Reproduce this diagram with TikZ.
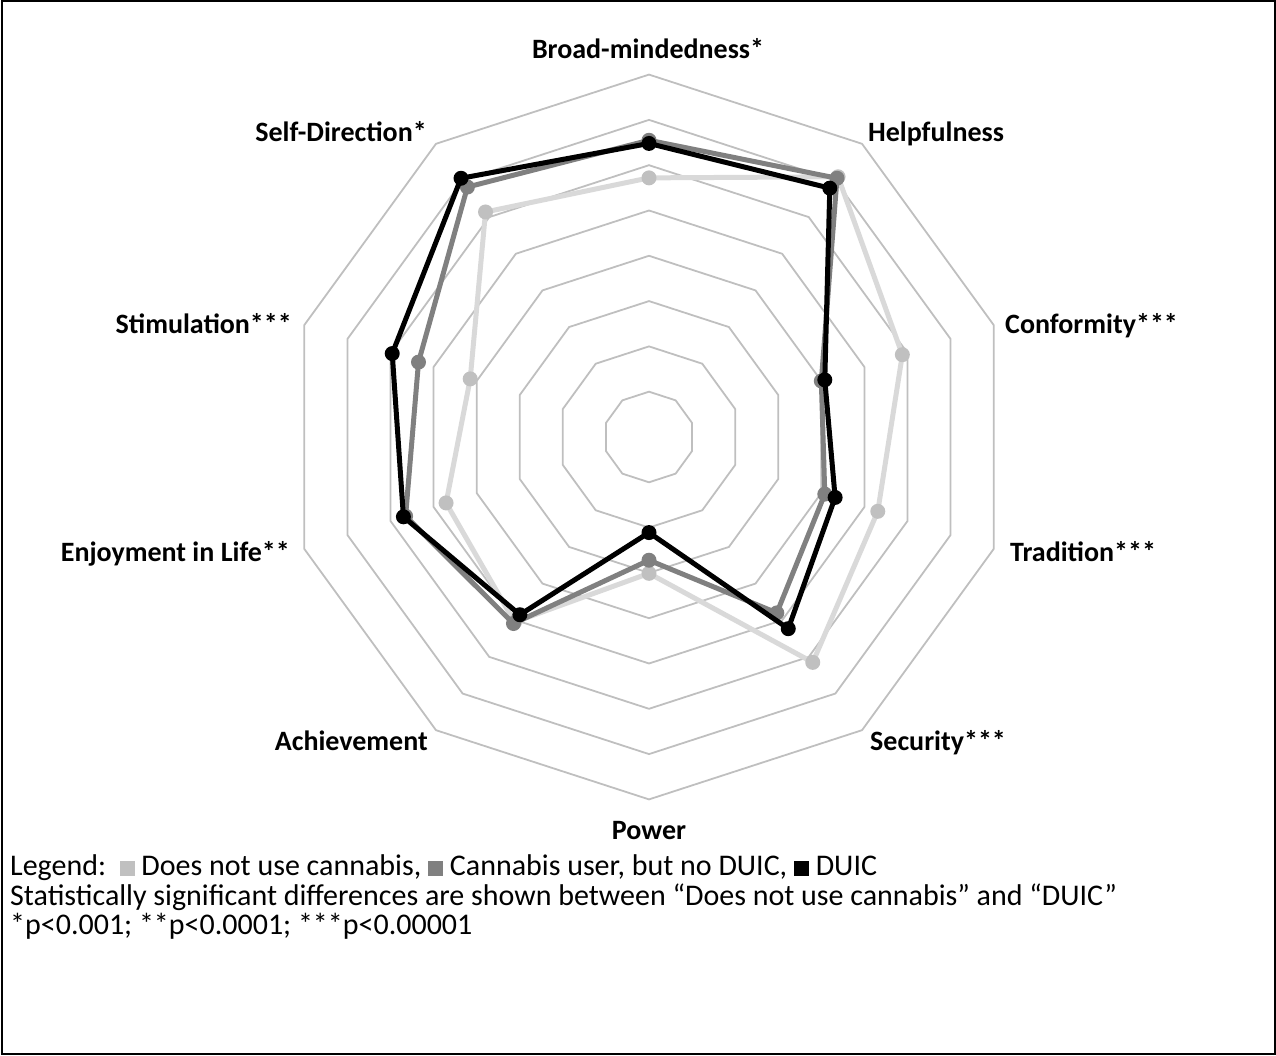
\documentclass[tikz,border=0pt]{standalone}
\usepackage{fontspec}
\setmainfont{Carlito}
\definecolor{gridc}{RGB}{191,191,191}
\definecolor{lightc}{RGB}{217,217,217}
\definecolor{lightm}{RGB}{192,192,192}
\definecolor{darkc}{RGB}{128,128,128}
\newcommand\legsq[1]{\textcolor{#1}{\rule{15pt}{15pt}}}
\begin{document}
\begin{tikzpicture}[x=1pt,y=1pt,
  lbl/.style={font=\fontsize{28}{32}\selectfont\bfseries, inner sep=0pt},
  gridline/.style={gridc, line width=1.8pt},
  series/.style={line width=5pt, line join=round}]
\useasboundingbox (0,0) rectangle (1276,1055);
\draw[line width=2pt] (1.5,1.5) rectangle (1274.5,1053.5);
\begin{scope}[shift={(649,618)}, x=45.3pt, y=45.3pt]
  \foreach \k in {1,...,8}
    \draw[gridline] (90:\k) \foreach \a in {54,18,...,-234} {-- (\a:\k)} -- cycle;
  \foreach \v [count=\i] in {5.72,7.1,5.88,5.31,6.15,3.01,5.05,4.71,4.15,6.14}
    \coordinate (L\i) at ({90-36*(\i-1)}:\v);
  \foreach \v [count=\i] in {6.55,7.06,4.0,4.08,4.8,2.72,5.09,5.65,5.35,6.82}
    \coordinate (D\i) at ({90-36*(\i-1)}:\v);
  \foreach \v [count=\i] in {6.48,6.79,4.08,4.32,5.23,2.11,4.85,5.70,5.96,7.06}
    \coordinate (B\i) at ({90-36*(\i-1)}:\v);
  \draw[series, lightc] (L1) -- (L2) -- (L3) -- (L4) -- (L5) -- (L6) -- (L7) -- (L8) -- (L9) -- (L10) -- cycle;
  \foreach \i in {1,...,10} \fill[lightm] (L\i) circle (7.5pt);
  \draw[series, darkc] (D1) -- (D2) -- (D3) -- (D4) -- (D5) -- (D6) -- (D7) -- (D8) -- (D9) -- (D10) -- cycle;
  \foreach \i in {1,...,10} \fill[darkc] (D\i) circle (7.5pt);
  \draw[series, black] (B1) -- (B2) -- (B3) -- (B4) -- (B5) -- (B6) -- (B7) -- (B8) -- (B9) -- (B10) -- cycle;
  \foreach \i in {1,...,10} \fill[black] (B\i) circle (7.5pt);
\end{scope}
% axis labels
\node[lbl, anchor=base] (bm) at (648,996.5) {Broad-mindedness*};
\node[lbl, anchor=base west] (hp) at (868,913.5) {Helpfulness};
\node[lbl, anchor=base west] (cf) at (1005,721.5) {Conformity***};
\node[lbl, anchor=base west] (tr) at (1010,493.5) {Tradition***};
\node[lbl, anchor=base west] (se) at (870,304.5) {Security***};
\node[lbl, anchor=base] (pw) at (649,215.5) {Power};
\node[lbl, anchor=base east] (ac) at (428,304.5) {Achievement};
\node[lbl, anchor=base east] (en) at (290,493.5) {Enjoyment in Life**};
\node[lbl, anchor=base east] (st) at (292,721.5) {Stimulation***};
\node[lbl, anchor=base east] (sd) at (427,913.5) {Self-Direction*};
% legend
\node[anchor=base west, inner sep=0pt, align=left, font=\fontsize{30}{29.5}\selectfont] (leg) at (10,120.5)
  {Legend:\ \ \legsq{lightm} Does not use cannabis, \legsq{darkc} Cannabis user, but no DUIC, \legsq{black} DUIC\\
   Statistically significant differences are shown between “Does not use cannabis” and “DUIC”\\
   *p<0.001; **p<0.0001; ***p<0.00001};
\end{tikzpicture}
\end{document}
